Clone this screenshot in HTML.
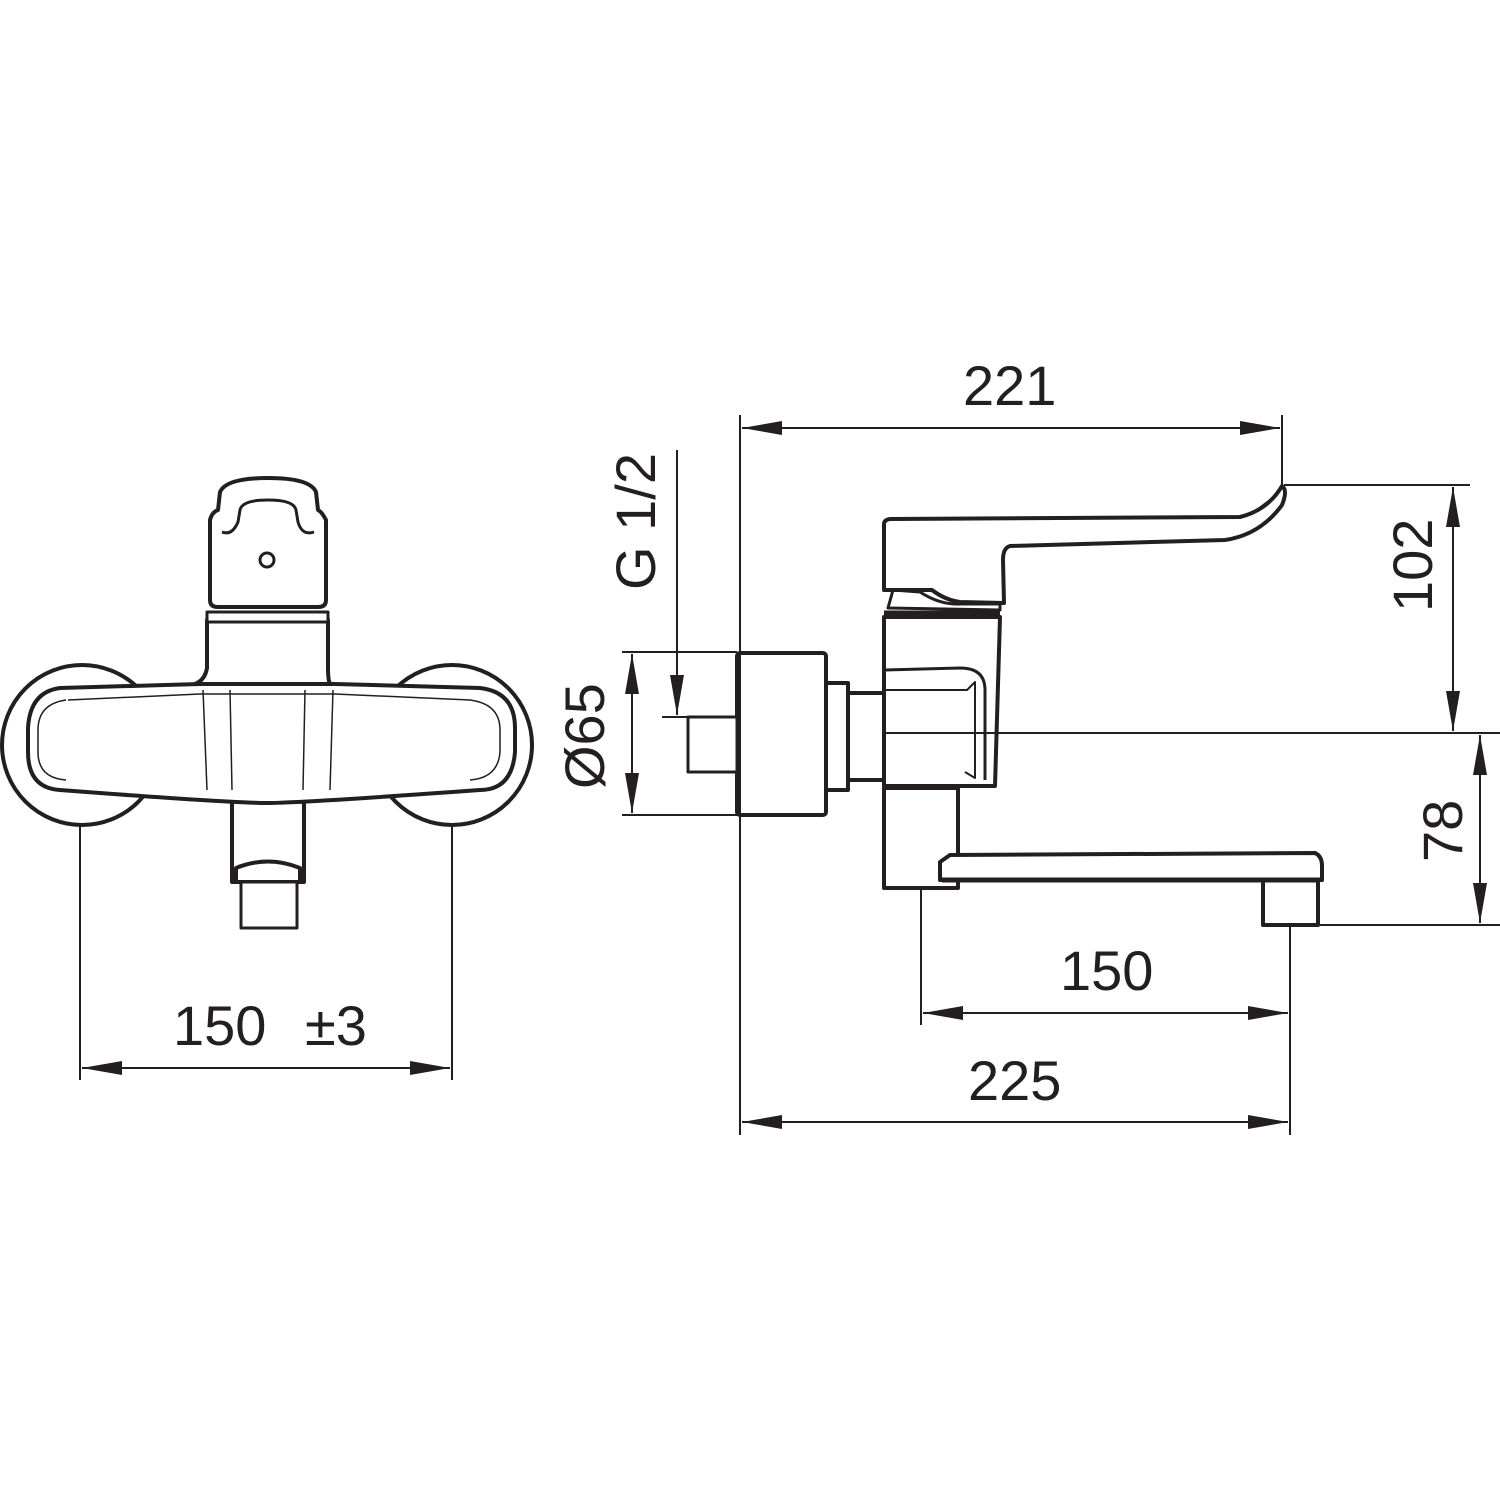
<!DOCTYPE html>
<html><head><meta charset="utf-8"><style>html,body{margin:0;padding:0;background:#fff}svg{display:block}text{font-family:"Liberation Sans",sans-serif;font-size:56px;fill:#231f20}</style></head>
<body>
<svg width="1500" height="1500" viewBox="0 0 1500 1500" xmlns="http://www.w3.org/2000/svg">
<defs>
<marker id="a" viewBox="0 0 40 14" refX="40" refY="7" markerWidth="40" markerHeight="14" markerUnits="userSpaceOnUse" orient="auto-start-reverse"><path d="M0,0 L40,7 L0,14 Z" fill="#231f20"/></marker>
</defs>
<g fill="none" stroke="#231f20" stroke-width="2">
<!-- LEFT VIEW dims -->
<line x1="80" y1="735" x2="80" y2="1080"/>
<line x1="452" y1="735" x2="452" y2="1080"/>
<line x1="82" y1="1068" x2="450" y2="1068" marker-start="url(#a)" marker-end="url(#a)"/>
</g>
<g fill="#fff" stroke="#231f20" stroke-width="4" stroke-linejoin="round">
<!-- rosettes -->
<circle cx="82" cy="745" r="80"/>
<circle cx="452" cy="745" r="80"/>
<!-- column -->
<path d="M207,620 L207,668 Q205,680 195,684 L330,684 Q328,680 328,668 L328,620 Z"/>
<!-- lower spout -->
<rect x="232" y="790" width="72" height="92"/>
<path d="M236,882 L236,868 Q268,855 300,868 L300,882 Z"/>
<rect x="241" y="882" width="56" height="46" stroke-width="3"/>
<!-- main horizontal body -->
<path d="M60,688 L200,684 L335,684 L480,688 Q515,692 515,728 L515,752 Q512,790 480,790 Q300,803 267,803 Q230,803 60,790 Q28,788 28,752 L28,728 Q30,692 60,688 Z"/>
<path d="M68,700 L200,694 L335,694 L470,700 Q500,704 500,730 L500,752 Q498,778 470,780 M66,780 Q38,778 38,752 L38,730 Q38,704 66,700" stroke-width="1.5"/>
<line x1="203" y1="690" x2="207" y2="790" stroke-width="1.5"/>
<line x1="230" y1="690" x2="232" y2="790" stroke-width="1.5"/>
<line x1="305" y1="690" x2="303" y2="790" stroke-width="1.5"/>
<line x1="333" y1="690" x2="330" y2="790" stroke-width="1.5"/>
<!-- ring -->
<path d="M207,612 L328,612 L328,622 L207,622 Z" stroke-width="3"/>
<!-- handle cap -->
<path d="M210,520 L210,600 Q210,607 218,607 L318,607 Q326,607 326,600 L326,520 Q322,512 318,510 L316,492 Q310,478 268,478 Q226,478 220,492 L218,510 Q212,512 210,520 Z"/>
<path d="M222,532 Q232,536 238,522 L240,510 Q242,500 268,500 Q294,500 296,510 L298,522 Q302,536 314,532" stroke-width="3"/>
<circle cx="267" cy="560" r="7" stroke-width="3"/>

<!-- RIGHT VIEW -->
<!-- rosette -->
<rect x="737" y="653" width="89" height="162" rx="3"/>
<rect x="688" y="717" width="49" height="55" stroke-width="3"/>
<rect x="826" y="683" width="22" height="107"/>
<rect x="848" y="693" width="36" height="87"/>
<!-- lower body -->
<rect x="884" y="788" width="74" height="100"/>
<!-- spout -->
<rect x="1263" y="878" width="55" height="47"/>
<path d="M940,862 L950,855 L1315,853 Q1322,856 1322,866 L1322,880 L940,880 Z"/>
<line x1="942" y1="880" x2="1320" y2="880" stroke-width="5"/>
<!-- body -->
<path d="M884,617 L1000,617 L995,786 L884,786 Z"/>
<path d="M886,670 L960,668 Q985,668 985,690 L985,780" stroke-width="3"/>
<path d="M886,690 L967,690 L975,682 L975,778 L965,772" stroke-width="2"/>
<line x1="884" y1="613" x2="1000" y2="613" stroke-width="5"/>
<path d="M888,608 L893,590 L920,592 Q940,605 960,604 L1000,604 L1000,610 Z" stroke-width="3"/>
<!-- handle -->
<path d="M884,524 Q884,520 890,519 L1240,517 Q1268,510 1282,486 Q1288,490 1282,505 Q1260,535 1225,540 L1010,546 Q1003,548 1003,560 L1004,603 L960,602 Q945,600 932,590 L884,590 Z"/>
<path d="M1250,515 L1278,494" stroke-width="2"/>
</g>
<g fill="none" stroke="#231f20" stroke-width="2">
<line x1="740" y1="415" x2="740" y2="1135"/>
<line x1="1282" y1="415" x2="1282" y2="485"/>
<line x1="742" y1="428" x2="1280" y2="428" marker-start="url(#a)" marker-end="url(#a)"/>
<line x1="1284" y1="485" x2="1470" y2="485"/>
<line x1="884" y1="733" x2="1500" y2="733"/>
<line x1="1453" y1="487" x2="1453" y2="731" marker-start="url(#a)" marker-end="url(#a)"/>
<line x1="1320" y1="925" x2="1500" y2="925"/>
<line x1="1480" y1="735" x2="1480" y2="923" marker-start="url(#a)" marker-end="url(#a)"/>
<line x1="921" y1="888" x2="921" y2="1025"/>
<line x1="1290" y1="925" x2="1290" y2="1135"/>
<line x1="923" y1="1013" x2="1288" y2="1013" marker-start="url(#a)" marker-end="url(#a)"/>
<line x1="742" y1="1122" x2="1288" y2="1122" marker-start="url(#a)" marker-end="url(#a)"/>
<line x1="622" y1="652" x2="737" y2="652"/>
<line x1="622" y1="815" x2="737" y2="815"/>
<line x1="632" y1="654" x2="632" y2="813" marker-start="url(#a)" marker-end="url(#a)"/>
<line x1="677" y1="450" x2="677" y2="715" marker-end="url(#a)"/>
<line x1="662" y1="717" x2="690" y2="717"/>
</g>
<text x="173" y="1045">150</text>
<text x="305" y="1045">±3</text>
<text x="963" y="405">221</text>
<text x="1060" y="990">150</text>
<text x="968" y="1100">225</text>
<text transform="translate(1432,612) rotate(-90)">102</text>
<text transform="translate(1462,862) rotate(-90)">78</text>
<text transform="translate(604,789) rotate(-90)">Ø65</text>
<text transform="translate(655,590) rotate(-90)">G 1/2</text>
</svg>
</body></html>
